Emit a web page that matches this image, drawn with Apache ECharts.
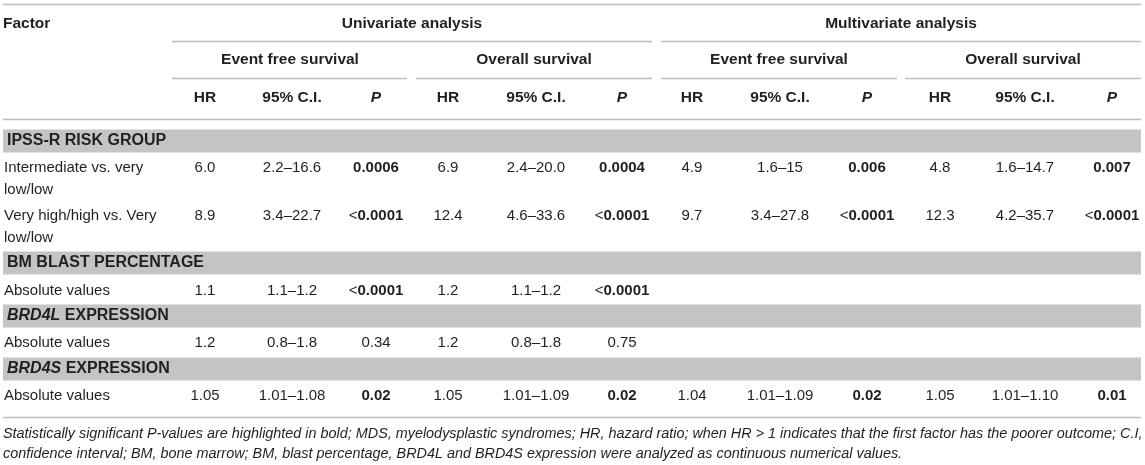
<!DOCTYPE html>
<html>
<head>
    <meta charset="utf-8">
    <title>Cox regression table</title>
    <script src="https://cdn.jsdelivr.net/npm/echarts@6/dist/echarts.min.js"></script>
    <style>
        html, body { margin: 0; padding: 0; width: 100%; height: 100%; background: #fff; overflow: hidden; }
        #chart { width: 1145px; height: 465px; }
    </style>
</head>
<body>
    <div id="chart"></div>
    <script>
        // table content
        const analyses = ['Univariate analysis', 'Multivariate analysis'];
        const endpoints = ['Event free survival', 'Overall survival', 'Event free survival', 'Overall survival'];
        const statHeads = ['HR', '95% C.I.', 'P'];
        const groups = ['IPSS-R RISK GROUP', 'BM BLAST PERCENTAGE', '{gi|BRD4L} EXPRESSION', '{gi|BRD4S} EXPRESSION'];
        const factors = ['Intermediate vs. very\nlow/low', 'Very high/high vs. Very\nlow/low', 'Absolute values', 'Absolute values', 'Absolute values'];

        const uniEfsHR = ['6.0', '8.9', '1.1', '1.2', '1.05'];
        const uniEfsCI = ['2.2–16.6', '3.4–22.7', '1.1–1.2', '0.8–1.8', '1.01–1.08'];
        const uniEfsP = ['0.0006', '<0.0001', '<0.0001', '0.34', '0.02'];
        const uniOsHR = ['6.9', '12.4', '1.2', '1.2', '1.05'];
        const uniOsCI = ['2.4–20.0', '4.6–33.6', '1.1–1.2', '0.8–1.8', '1.01–1.09'];
        const uniOsP = ['0.0004', '<0.0001', '<0.0001', '0.75', '0.02'];
        const multiEfsHR = ['4.9', '9.7', '', '', '1.04'];
        const multiEfsCI = ['1.6–15', '3.4–27.8', '', '', '1.01–1.09'];
        const multiEfsP = ['0.006', '<0.0001', '', '', '0.02'];
        const multiOsHR = ['4.8', '12.3', '', '', '1.05'];
        const multiOsCI = ['1.6–14.7', '4.2–35.7', '', '', '1.01–1.10'];
        const multiOsP = ['0.007', '<0.0001', '', '', '0.01'];

        const footnote = [
            'Statistically significant P-values are highlighted in bold; MDS, myelodysplastic syndromes; HR, hazard ratio; when HR > 1 indicates that the first factor has the poorer outcome; C.I,',
            'confidence interval; BM, bone marrow; BM, blast percentage, BRD4L and BRD4S expression were analyzed as continuous numerical values.'
        ];

        // layout (pixel units on hidden value axes)
        const W = 1145, H = 465;
        const L = 3, R = 1141;
        const colX = [205, 292, 376, 448, 536, 622, 692, 780, 867, 940, 1025, 1112];
        const analysisX = [412, 901];
        const endpointX = [290, 534, 779, 1023];
        const headY = [24, 60, 98];
        const groupY = [141, 263, 316, 369];
        const rowY = [168, 216, 291, 343, 396];
        const noteY = [434, 454];
        const rules = [
            [L, R, 4], [172, 652, 41], [661, R, 41],
            [172, 407, 78], [416, 652, 78], [661, 897, 78], [905, R, 78],
            [L, R, 119], [L, R, 417]
        ];

        const FONT = '"Liberation Sans", Arial, Helvetica, sans-serif';
        const INK = '#231f20';
        const RULE = '#bdbdbd';
        const BAND = '#c3c4c6';

        const valueCols = [uniEfsHR, uniEfsCI, uniEfsP, uniOsHR, uniOsCI, uniOsP,
            multiEfsHR, multiEfsCI, multiEfsP, multiOsHR, multiOsCI, multiOsP];

        // build text cells
        const cells = [];
        function cell(x, y, text, kind, align, vAlign) {
            cells.push({ x, y, text, kind, align: align || 'center', vAlign: vAlign || 'middle' });
        }
        cell(L, headY[0], 'Factor', 'head', 'left');
        analyses.forEach((t, i) => cell(analysisX[i], headY[0], t, 'head'));
        endpoints.forEach((t, i) => cell(endpointX[i], headY[1], t, 'head'));
        colX.forEach((x, i) => {
            const h = statHeads[i % 3];
            cell(x, headY[2], h, h === 'P' ? 'headI' : 'head');
        });
        groups.forEach((g, i) => cell(L + 4, groupY[i], g, 'group', 'left'));
        factors.forEach((f, i) => cell(L + 1, rowY[i] - 11, f, 'body', 'left', 'top'));
        valueCols.forEach((col, c) => {
            col.forEach((v, r) => {
                if (!v) return;
                if (c % 3 === 2) {
                    const sig = parseFloat(v.replace('<', '')) < 0.05;
                    const txt = v.charAt(0) === '<' ? '{lt|<}{pb|' + v.slice(1) + '}' : (sig ? '{pb|' + v + '}' : v);
                    cell(colX[c], rowY[r], txt, 'body');
                } else {
                    cell(colX[c], rowY[r], v, 'body');
                }
            });
        });
        footnote.forEach((t, i) => cell(L, noteY[i], t, 'note', 'left'));

        const styles = {
            head: { fontSize: 15.5, fontWeight: 'bold', fontStyle: 'normal' },
            headI: { fontSize: 15.5, fontWeight: 'bold', fontStyle: 'italic' },
            group: { fontSize: 16, fontWeight: 'bold', fontStyle: 'normal' },
            body: { fontSize: 15, fontWeight: 'normal', fontStyle: 'normal' },
            note: { fontSize: 14.4, fontWeight: 'normal', fontStyle: 'italic' }
        };
        const rich = {
            gi: { fontSize: 16, fontWeight: 'bold', fontStyle: 'italic', fontFamily: FONT, fill: INK },
            lt: { fontSize: 15, fontWeight: 'normal', fontFamily: FONT, fill: INK },
            pb: { fontSize: 15, fontWeight: 'bold', fontFamily: FONT, fill: INK }
        };

        const chart = echarts.init(document.getElementById('chart'), null, { renderer: 'canvas' });

        chart.setOption({
            animation: false,
            backgroundColor: '#fff',
            grid: { left: 0, right: 0, top: 0, bottom: 0 },
            xAxis: { type: 'value', min: 0, max: W, show: false },
            yAxis: { type: 'value', min: 0, max: H, inverse: true, show: false },
            series: [
                {
                    // grey group bands
                    type: 'custom',
                    silent: true,
                    data: groupY.map(y => [L, R, y]),
                    renderItem: (params, api) => {
                        const p1 = api.coord([api.value(0), api.value(2) - 11.5]);
                        const p2 = api.coord([api.value(1), api.value(2) + 11.5]);
                        return {
                            type: 'rect',
                            shape: { x: p1[0], y: p1[1], width: p2[0] - p1[0], height: p2[1] - p1[1] },
                            style: { fill: BAND }
                        };
                    }
                },
                {
                    // horizontal rules
                    type: 'custom',
                    silent: true,
                    data: rules,
                    renderItem: (params, api) => {
                        const p1 = api.coord([api.value(0), api.value(2)]);
                        const p2 = api.coord([api.value(1), api.value(2)]);
                        return {
                            type: 'line',
                            shape: { x1: p1[0], y1: p1[1] + 0.5, x2: p2[0], y2: p2[1] + 0.5 },
                            style: { stroke: RULE, lineWidth: 1.5 }
                        };
                    }
                },
                {
                    // all text
                    type: 'custom',
                    silent: true,
                    data: cells.map((c, i) => [c.x, c.y, i]),
                    renderItem: (params, api) => {
                        const c = cells[api.value(2)];
                        const p = api.coord([api.value(0), api.value(1)]);
                        const s = styles[c.kind];
                        return {
                            type: 'text',
                            style: {
                                x: p[0],
                                y: p[1],
                                text: c.text,
                                align: c.align,
                                verticalAlign: c.vAlign,
                                fontFamily: FONT,
                                fontSize: s.fontSize,
                                fontWeight: s.fontWeight,
                                fontStyle: s.fontStyle,
                                lineHeight: 22,
                                fill: INK,
                                rich: rich
                            }
                        };
                    }
                }
            ]
        });
    </script>
</body>
</html>
